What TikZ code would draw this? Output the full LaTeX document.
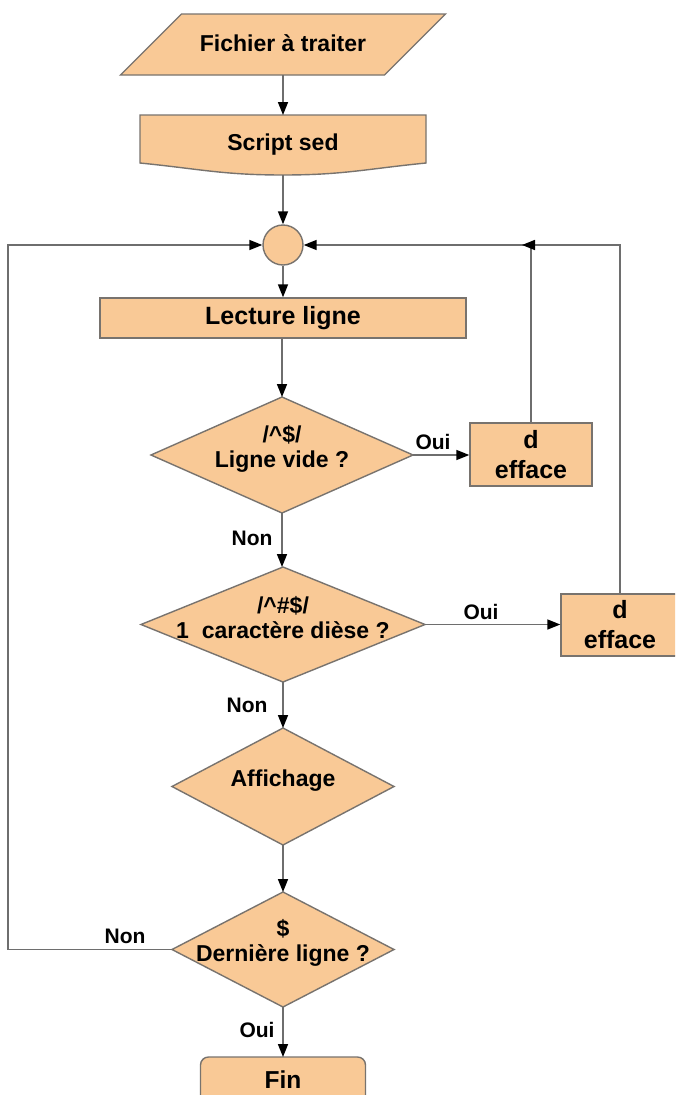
\documentclass[tikz,border=0pt]{standalone}
\usepackage{fontspec}
\setmainfont{Liberation Sans}
\usetikzlibrary{arrows.meta,calc}
\definecolor{peach}{RGB}{249,201,150}
\definecolor{edgec}{RGB}{120,115,110}
\definecolor{linec}{RGB}{110,110,110}
\begin{document}
\begin{tikzpicture}[x=1pt,y=-1pt,
 shp/.style={draw=edgec,fill=peach,line width=1.4pt},
 ghost/.style={rectangle,draw=none,inner sep=0pt,outer sep=0pt},
 txt/.style={font=\bfseries\fontsize{23}{25}\selectfont,align=center,inner sep=0pt},
 boxtxt/.style={font=\bfseries\fontsize{25}{30}\selectfont,align=center,inner sep=0pt},
 lbl/.style={font=\bfseries\fontsize{21}{24}\selectfont,inner sep=0pt},
 conn/.style={draw=linec,line width=1.6pt,-{Triangle[length=13pt,width=10pt,color=black]}}]
\useasboundingbox (0,0) rectangle (675,1095);
\clip (0,0) rectangle (675,1095);
\fill[white] (0,0) rectangle (675,1095);

% geometry holders
\node[ghost,minimum width=325pt,minimum height=61pt] (fich) at (283,44.5) {};
\node[ghost,minimum width=286pt,minimum height=60pt] (scr) at (283,145) {};
\node[ghost,minimum width=262pt,minimum height=116pt] (d1) at (282,455) {};
\node[ghost,minimum width=284pt,minimum height=115pt] (d2) at (283,624.5) {};
\node[ghost,minimum width=222pt,minimum height=117pt] (aff) at (283,786.5) {};
\node[ghost,minimum width=222pt,minimum height=115pt] (d4) at (283,949.5) {};
\node[ghost,minimum width=165pt,minimum height=53pt] (fin) at (283,1083.5) {};

% shapes
\draw[shp] ([xshift=61pt]fich.north west) -- (fich.north east) -- ([xshift=-61pt]fich.south east) -- (fich.south west) -- cycle;
\draw[shp] (scr.north west) -- (scr.north east) -- ([yshift=12pt]scr.south east)
  .. controls ([xshift=-60pt,yshift=6pt]scr.south east) and ([xshift=60pt]scr.south) .. (scr.south)
  .. controls ([xshift=-60pt]scr.south) and ([xshift=60pt,yshift=6pt]scr.south west) .. ([yshift=12pt]scr.south west) -- cycle;
\node[shp,circle,minimum size=40pt,inner sep=0pt] (jn) at (283,245) {};
\node[shp,rectangle,minimum width=366pt,minimum height=40pt,inner sep=0pt,font=\bfseries\fontsize{25}{30}\selectfont] (lec) at (283,318) {Lecture ligne};
\foreach \d in {d1,d2,aff,d4}{
  \draw[shp] (\d.north) -- (\d.east) -- (\d.south) -- (\d.west) -- cycle;
}
\node[shp,rectangle,minimum width=122pt,minimum height=63pt,boxtxt] (eff1) at (531,454.5) {d\\efface};
\node[shp,rectangle,minimum width=118pt,minimum height=62pt,boxtxt] (eff2) at (620,625) {d\\efface};
\draw[shp,rounded corners=8pt] (fin.south west) rectangle (fin.north east);

% texts
\node[txt] (ficht) at ([yshift=1.5pt]fich.center) {Fichier à traiter};
\node[txt] (scrt) at (scr.center) {Script sed};
\node[txt] (d1t) at ([yshift=6pt]d1.center) {/\textasciicircum\$/\\Ligne vide ?};
\node[txt] (d2t) at ([yshift=7pt]d2.center) {/\textasciicircum\#\$/\\1\ \ caractère dièse ?};
\node[txt] (afft) at ([yshift=6pt]aff.center) {Affichage};
\node[txt] (d4t) at ([yshift=7pt]d4.center) {\$\\Dernière ligne ?};
\node[txt,font=\bfseries\fontsize{24.5}{28}\selectfont] (fint) at ([yshift=-22.5pt]fin.north) {Fin};

% connectors
\coordinate (lft) at (8,245);
\coordinate (mrg) at ($(eff1.north |- jn.east)+(-9,0)$);
\draw[conn] (fich.south) -- (scr.north);
\draw[conn] (scr.south) -- (jn.north);
\draw[conn] (jn.south) -- (lec.north);
\draw[conn] (lec.south -| d1.north) -- (d1.north);
\draw[conn] (d1.south) -- (d1.south |- d2.north);
\draw[conn] (d2.south) -- (aff.north);
\draw[conn] (aff.south) -- (d4.north);
\draw[conn] (d4.south) -- (fin.north);
\draw[conn] (d1.east) -- (d1.east -| eff1.west);
\draw[conn] (d2.east) -- (d2.east -| eff2.west);
\draw[conn] (eff1.north) |- (jn.east);
\draw[conn] (eff2.north) |- (mrg);
\draw[conn] (d4.west) -| (lft) -- (jn.west);

% labels
\node[lbl] (oui1) at (433,442) {Oui};
\node[lbl] (non1) at (252,538) {Non};
\node[lbl] (oui2) at (481,612) {Oui};
\node[lbl] (non2) at (247,705) {Non};
\node[lbl] (non3) at (125,936) {Non};
\node[lbl] (oui3) at (257,1030) {Oui};
\end{tikzpicture}
\end{document}
